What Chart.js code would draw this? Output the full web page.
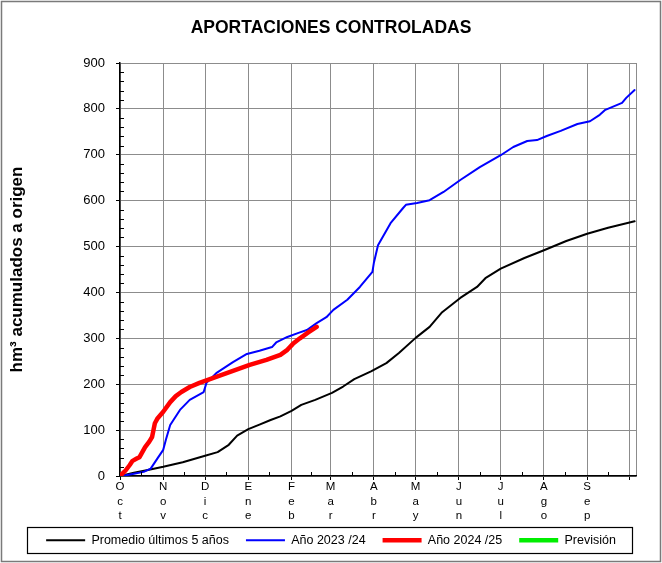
<!DOCTYPE html>
<html lang="es">
<head>
<meta charset="utf-8">
<title>Aportaciones controladas</title>
<script src="https://cdn.jsdelivr.net/npm/chart.js@4.4.1/dist/chart.umd.min.js"></script>
<style>
  html, body { margin: 0; padding: 0; background: #fff; }
  canvas { display: block; }
</style>
</head>
<body>
<canvas id="aportaciones" width="662" height="563"></canvas>
<script>
// dias desde el 1 de octubre
const mesesInicio = [0, 31, 61, 92, 123, 151, 182, 212, 243, 273, 304, 335, 365];
const mesesNombre = ["Oct", "Nov", "Dic", "Ene", "Feb", "Mar", "Abr", "May", "Jun", "Jul", "Ago", "Sep"];
const mitadMes = [15, 46, 76, 107, 137, 166, 197, 227, 258, 288, 319, 350];

const promedioDias = [0, 10, 20, 31, 45, 61, 70, 78, 84, 92, 100, 108, 115, 123, 130, 140, 152, 160, 168, 180, 191, 200, 212, 222, 231, 244, 256, 262, 273, 290, 304, 320, 335, 350, 369];
const promedioValores = [0, 7, 13, 20, 30, 44, 52, 68, 88, 102, 112, 122, 130, 142, 155, 166, 181, 195, 211, 228, 246, 268, 301, 325, 357, 388, 412, 431, 452, 475, 492, 512, 528, 541, 555];

const anio2324Dias = [0, 5, 10, 17, 22, 27, 31, 33, 36, 43, 50, 60, 62, 69, 81, 91, 100, 109, 112, 120, 128, 134, 141, 148, 153, 163, 172, 181, 182, 185, 194, 203, 205, 213, 222, 232, 244, 258, 273, 282, 292, 299, 306, 316, 328, 337, 344, 348, 360, 363, 369];
const anio2324Valores = [0, 2, 5, 9, 16, 39, 57, 80, 111, 144, 166, 183, 203, 224, 248, 266, 273, 281, 291, 303, 312, 318, 333, 346, 362, 384, 412, 445, 464, 503, 551, 584, 591, 595, 601, 619, 645, 673, 699, 717, 730, 732, 741, 752, 767, 773, 787, 798, 813, 824, 841];

const anio2425Dias = [0, 4, 7, 9, 12, 14, 18, 21, 23, 24, 25, 27, 31, 36, 40, 44, 50, 57, 67, 81, 93, 105, 115, 120, 124, 129, 135, 141];
const anio2425Valores = [0, 12, 24, 33, 38, 41, 63, 75, 85, 100, 115, 126, 140, 161, 174, 183, 194, 203, 214, 229, 242, 253, 264, 275, 288, 300, 313, 325];

const previsionDias = [];
const previsionValores = [];

function puntos(dias, valores) {
  return dias.map((d, i) => ({ x: d, y: valores[i] }));
}

Chart.defaults.font.family = 'Arial, "Liberation Sans", sans-serif';
Chart.defaults.color = "#000";

const GRIS = "#8c8c8c";

// fondo blanco y marco exterior
const fondo = {
  id: "fondo",
  beforeDraw(chart) {
    const c = chart.ctx;
    c.save();
    c.fillStyle = "#fff";
    c.fillRect(0, 0, chart.width, chart.height);
    c.strokeStyle = "#7a7a7a";
    c.lineWidth = 1.5;
    c.strokeRect(1.5, 1.5, chart.width - 3, chart.height - 3);
    c.restore();
  }
};

// la leyenda sube un poco para dejar sitio a las letras de los meses
const subirLeyenda = {
  id: "subirLeyenda",
  afterLayout(chart) {
    chart.legend.top -= 6;
    chart.legend.bottom -= 6;
  }
};

// marcas menores hacia dentro y recuadro de la leyenda
const marcas = {
  id: "marcas",
  afterDraw(chart) {
    const c = chart.ctx;
    const x = chart.scales.x;
    const y = chart.scales.y;
    const area = chart.chartArea;
    c.save();
    c.strokeStyle = "#000";
    c.lineWidth = 1;
    c.beginPath();
    mitadMes.forEach(d => {
      const px = Math.round(x.getPixelForValue(d)) + 0.5;
      c.moveTo(px, area.bottom);
      c.lineTo(px, area.bottom - 4);
    });
    for (let v = 20; v < 900; v += 20) {
      if (v % 100 === 0) continue;
      const py = Math.round(y.getPixelForValue(v)) + 0.5;
      c.moveTo(area.left, py);
      c.lineTo(area.left + 4, py);
    }
    c.stroke();

    const cajas = chart.legend.legendHitBoxes;
    if (cajas && cajas.length) {
      const primera = cajas[0];
      const ultima = cajas[cajas.length - 1];
      const centro = primera.top + primera.height / 2;
      const izq = Math.round(primera.left - 19) + 0.5;
      const der = Math.round(ultima.left + ultima.width + 16) + 0.5;
      const arriba = Math.round(centro - 13) + 0.5;
      c.strokeStyle = "#000";
      c.lineWidth = 1.2;
      c.strokeRect(izq, arriba, der - izq, 26);
    }
    c.restore();
  }
};

const ctx = document.getElementById("aportaciones");

new Chart(ctx, {
  type: "line",
  data: {
    datasets: [
      {
        label: "Promedio últimos 5 años",
        data: puntos(promedioDias, promedioValores),
        borderColor: "#000000",
        backgroundColor: "#000000",
        borderWidth: 2,
        order: 2
      },
      {
        label: "Año 2023 /24",
        data: puntos(anio2324Dias, anio2324Valores),
        borderColor: "#0000ff",
        backgroundColor: "#0000ff",
        borderWidth: 2,
        order: 1
      },
      {
        label: "Año 2024 /25",
        data: puntos(anio2425Dias, anio2425Valores),
        borderColor: "#ff0000",
        backgroundColor: "#ff0000",
        borderWidth: 4.5,
        order: 0
      },
      {
        label: "Previsión",
        data: puntos(previsionDias, previsionValores),
        borderColor: "#00ee00",
        backgroundColor: "#00ee00",
        borderWidth: 4.5,
        order: 0
      }
    ]
  },
  options: {
    responsive: false,
    animation: false,
    devicePixelRatio: 1,
    elements: {
      point: { radius: 0 },
      line: { tension: 0, borderJoinStyle: "round", borderCapStyle: "round" }
    },
    layout: { padding: { left: 0, right: 0, top: 0, bottom: 0.5 } },
    scales: {
      x: {
        type: "linear",
        min: 0,
        max: 370,
        afterBuildTicks(scale) {
          scale.ticks = mesesInicio.concat([370]).map(v => ({ value: v }));
        },
        afterFit(scale) {
          scale.height = 47;
        },
        ticks: {
          autoSkip: false,
          maxRotation: 0,
          padding: 0,
          font: { size: 11.5, lineHeight: "14.4px" },
          color: "#000",
          callback: (value) => {
            const i = mesesInicio.indexOf(value);
            if (i < 0 || i >= mesesNombre.length) return "";
            return mesesNombre[i].split("");
          }
        },
        grid: {
          color: GRIS,
          lineWidth: 1,
          tickLength: 4,
          tickColor: (c) => (c.tick && c.tick.value === 370 ? "rgba(0,0,0,0)" : "#000")
        },
        border: { color: "#000", width: 1.5 }
      },
      y: {
        min: 0,
        max: 900,
        afterFit(scale) {
          scale.width = 120;
        },
        ticks: {
          stepSize: 100,
          padding: 11,
          font: { size: 13 },
          color: "#000"
        },
        grid: {
          color: GRIS,
          lineWidth: 1,
          tickLength: 4,
          tickColor: "#000"
        },
        border: { color: "#000", width: 1.5 },
        title: {
          display: true,
          text: "hm³ acumulados a origen",
          font: { size: 17, weight: "bold" },
          color: "#000",
          padding: { top: 7, bottom: 0 }
        }
      },
      margen: {
        type: "linear",
        position: "right",
        min: 0,
        max: 1,
        afterFit(scale) {
          scale.width = 26;
        },
        ticks: { display: false },
        grid: { display: false },
        border: { display: false }
      }
    },
    plugins: {
      title: {
        display: true,
        text: "APORTACIONES CONTROLADAS",
        font: { size: 17.5, weight: "bold" },
        color: "#000",
        padding: { top: 17.5, bottom: 24.5 }
      },
      legend: {
        position: "bottom",
        labels: {
          usePointStyle: true,
          pointStyle: "line",
          pointStyleWidth: 39,
          padding: 17,
          font: { size: 12.5 },
          color: "#000",
          sort: (a, b) => a.datasetIndex - b.datasetIndex
        }
      },
      tooltip: { enabled: false }
    }
  },
  plugins: [fondo, subirLeyenda, marcas]
});
</script>
</body>
</html>
